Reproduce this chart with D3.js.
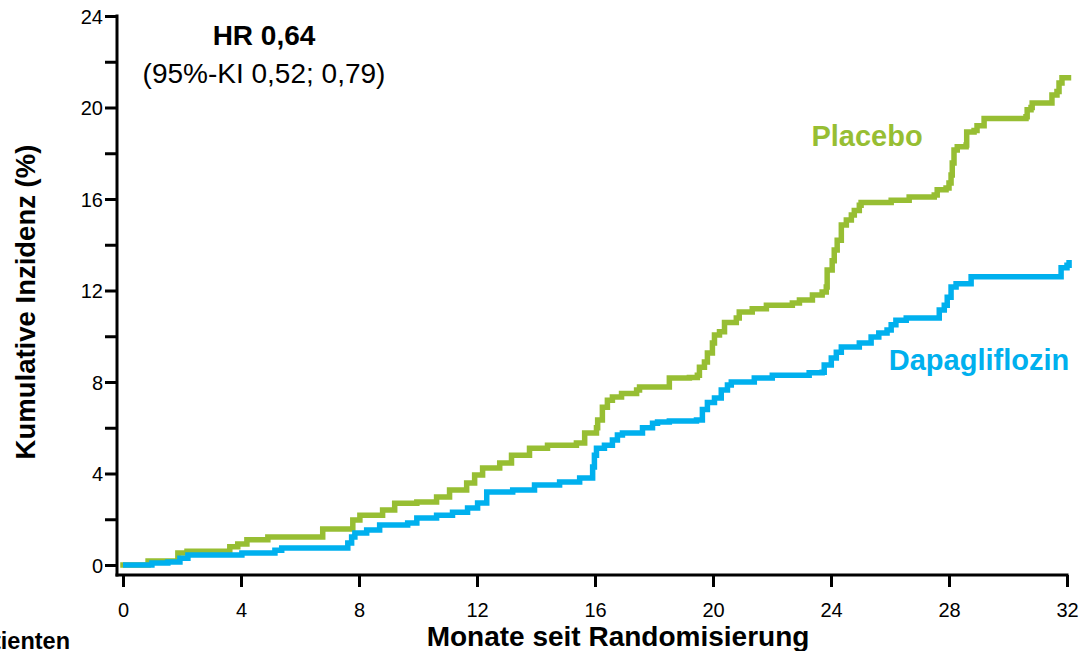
<!DOCTYPE html>
<html>
<head>
<meta charset="utf-8">
<script src="https://cdn.jsdelivr.net/npm/d3@7"></script>
<style>
  html, body { margin: 0; padding: 0; background: #fff; }
  svg { display: block; font-family: "Liberation Sans", Arial, sans-serif; }
</style>
</head>
<body>
<svg id="chart" width="1083" height="651"></svg>
<script>
// Kaplan-Meier style cumulative incidence (%) by month: [month, value] at each step
const placeboSteps = [
  [0, 0], [0.85, 0.17], [1.86, 0.52], [2.17, 0.6], [3.62, 0.8], [3.89, 0.92], [4.2, 1.1],
  [4.91, 1.22], [6.77, 1.57], [7.79, 1.97], [8.03, 2.18], [8.8, 2.4], [9.21, 2.7],
  [9.96, 2.75], [10.63, 2.97], [11.07, 3.28], [11.65, 3.58], [11.92, 3.93], [12.19, 4.24],
  [12.77, 4.46], [13.17, 4.8], [13.78, 5.1], [14.39, 5.24], [15.37, 5.33], [15.65, 5.77],
  [16.05, 6.0], [16.09, 6.34], [16.25, 6.9], [16.42, 7.2], [16.59, 7.34], [16.9, 7.5],
  [17.41, 7.65], [17.51, 7.78], [18.52, 8.17], [19.2, 8.2], [19.47, 8.3], [19.54, 8.65],
  [19.71, 8.87], [19.81, 9.27], [19.98, 9.7], [20.05, 10.05], [20.22, 10.2], [20.39, 10.6],
  [20.79, 10.8], [20.89, 11.06], [21.33, 11.2], [21.81, 11.36], [22.69, 11.45], [22.93, 11.58],
  [23.37, 11.8], [23.7, 11.93], [23.84, 12.15], [23.87, 12.9], [24.04, 13.3], [24.11, 13.77],
  [24.21, 14.2], [24.35, 14.86], [24.52, 15.08], [24.69, 15.3], [24.79, 15.5], [24.96, 15.73],
  [25.02, 15.85], [26.04, 15.95], [26.65, 16.09], [27.5, 16.17], [27.6, 16.4], [27.9, 16.48],
  [28.0, 16.7], [28.07, 17.05], [28.11, 17.57], [28.17, 18.14], [28.28, 18.28], [28.58, 18.36],
  [28.6, 18.93], [28.85, 19.0], [28.95, 19.2], [29.19, 19.52], [30.61, 19.6], [30.65, 19.9],
  [30.78, 20.0], [30.82, 20.2], [31.49, 20.55], [31.66, 20.7], [31.73, 21.07], [31.83, 21.3],
  [32.05, 21.3]
];

const dapaSteps = [
  [0, 0], [0.98, 0.09], [1.52, 0.13], [1.93, 0.3], [2.2, 0.44], [4.03, 0.52], [5.15, 0.65],
  [5.38, 0.74], [7.62, 0.96], [7.75, 1.22], [7.86, 1.4], [8.26, 1.53], [8.7, 1.75],
  [9.65, 1.84], [9.96, 2.05], [10.63, 2.18], [11.17, 2.31], [11.68, 2.49], [12.02, 2.71],
  [12.33, 3.19], [13.21, 3.28], [13.95, 3.5], [14.8, 3.63], [15.48, 3.8], [15.92, 4.28],
  [15.98, 4.8], [16.05, 5.1], [16.32, 5.24], [16.59, 5.46], [16.76, 5.68], [16.93, 5.77],
  [17.61, 6.0], [17.95, 6.2], [18.12, 6.25], [18.52, 6.3], [19.44, 6.34], [19.64, 6.8],
  [19.81, 7.1], [20.05, 7.3], [20.28, 7.65], [20.49, 7.87], [20.62, 8.0], [21.4, 8.17],
  [22.01, 8.3], [23.26, 8.4], [23.7, 8.43], [23.77, 8.74], [24.01, 9.05], [24.18, 9.3],
  [24.35, 9.53], [24.96, 9.7], [25.36, 9.97], [25.62, 10.14], [25.9, 10.27], [26.04, 10.5],
  [26.2, 10.7], [26.55, 10.8], [27.67, 11.15], [27.84, 11.36], [27.94, 11.7], [28.07, 12.15],
  [28.24, 12.3], [28.75, 12.6], [31.8, 13.0], [32.0, 13.1], [32.07, 13.33]
];

const xTicks = [0, 4, 8, 12, 16, 20, 24, 28, 32];
const yTicks = [0, 2, 4, 6, 8, 10, 12, 14, 16, 18, 20, 22, 24];
const yTickLabels = [0, 4, 8, 12, 16, 20, 24];

const GREEN = "#97BE33";
const BLUE = "#00B0EE";

const svg = d3.select("#chart");

const x = d3.scaleLinear().domain([0, 32]).range([123, 1067]);
const y = d3.scaleLinear().domain([0, 24]).range([565, 16]);
const axisY = 575;   // baseline of the horizontal axis
const axisX = 117;   // position of the vertical axis

// Axes lines
svg.append("line")
  .attr("x1", axisX).attr("x2", axisX)
  .attr("y1", y(24) - 1.5).attr("y2", axisY + 1.5)
  .attr("stroke", "#000").attr("stroke-width", 3);
svg.append("line")
  .attr("x1", axisX - 1.5).attr("x2", x(32) + 1.5)
  .attr("y1", axisY).attr("y2", axisY)
  .attr("stroke", "#000").attr("stroke-width", 3);

// Y ticks and labels
const yAxis = d3.axisLeft(y).tickValues(yTicks).tickSize(12).tickSizeOuter(0)
  .tickFormat(d => yTickLabels.includes(d) ? d : "");
const gy = svg.append("g").attr("transform", `translate(${axisX},0)`).call(yAxis);
gy.select(".domain").remove();
gy.selectAll(".tick line").attr("stroke", "#000").attr("stroke-width", 3);
gy.selectAll(".tick text")
  .attr("x", -14).attr("dy", "0.36em")
  .style("font-size", "20px").style("font-family", "Liberation Sans, Arial, sans-serif")
  .attr("fill", "#000");

// X ticks and labels
const xAxis = d3.axisBottom(x).tickValues(xTicks).tickSize(12).tickSizeOuter(0);
const gx = svg.append("g").attr("transform", `translate(0,${axisY})`).call(xAxis);
gx.select(".domain").remove();
gx.selectAll(".tick line").attr("stroke", "#000").attr("stroke-width", 3);
gx.selectAll(".tick text")
  .attr("y", 0).attr("dy", "42px")
  .style("font-size", "20px").style("font-family", "Liberation Sans, Arial, sans-serif")
  .attr("fill", "#000");

// Step curves
const line = d3.line()
  .x(d => x(d[0]))
  .y(d => y(d[1]))
  .curve(d3.curveStepAfter);

svg.append("path")
  .datum(placeboSteps)
  .attr("d", line)
  .attr("fill", "none")
  .attr("stroke", GREEN)
  .attr("stroke-width", 5.5)
  .attr("stroke-linecap", "square");

svg.append("path")
  .datum(dapaSteps)
  .attr("d", line)
  .attr("fill", "none")
  .attr("stroke", BLUE)
  .attr("stroke-width", 5.5)
  .attr("stroke-linecap", "butt");

// Series labels
svg.append("text")
  .attr("x", 867).attr("y", 146)
  .attr("text-anchor", "middle")
  .attr("fill", GREEN)
  .style("font-size", "29px").style("font-weight", "bold")
  .text("Placebo");

svg.append("text")
  .attr("x", 979).attr("y", 370)
  .attr("text-anchor", "middle")
  .attr("fill", BLUE)
  .style("font-size", "29px").style("font-weight", "bold")
  .text("Dapagliflozin");

// Hazard ratio annotation
svg.append("text")
  .attr("x", 264).attr("y", 45)
  .attr("text-anchor", "middle")
  .style("font-size", "28px").style("font-weight", "bold")
  .text("HR 0,64");
svg.append("text")
  .attr("x", 264).attr("y", 83)
  .attr("text-anchor", "middle")
  .style("font-size", "28px")
  .text("(95%-KI 0,52; 0,79)");

// Axis titles
svg.append("text")
  .attr("transform", "translate(35,302) rotate(-90)")
  .attr("text-anchor", "middle")
  .style("font-size", "27.5px").style("font-weight", "bold")
  .text("Kumulative Inzidenz (%)");

svg.append("text")
  .attr("x", 618).attr("y", 646)
  .attr("text-anchor", "middle")
  .style("font-size", "28px").style("font-weight", "bold")
  .text("Monate seit Randomisierung");

// Start of the patients-at-risk table label (runs off the left edge)
svg.append("text")
  .attr("x", 70).attr("y", 649)
  .attr("text-anchor", "end")
  .style("font-size", "23.5px").style("font-weight", "bold")
  .text("Patienten");
</script>
</body>
</html>
